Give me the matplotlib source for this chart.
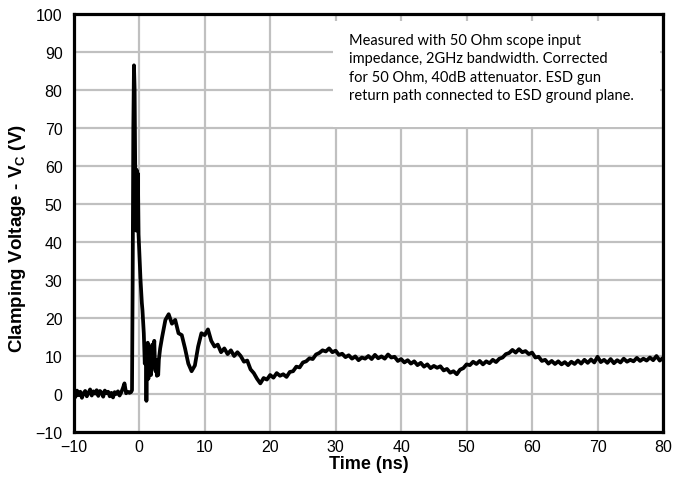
import numpy as np
import matplotlib.pyplot as plt
from matplotlib.patches import Rectangle

plt.rcParams['font.family'] = ['Liberation Sans', 'DejaVu Sans']
plt.rcParams['mathtext.fontset'] = 'custom'
plt.rcParams['mathtext.bf'] = 'Liberation Sans:bold'
plt.rcParams['mathtext.rm'] = 'Liberation Sans:bold'

# baseline before the pulse, -10 .. -1.25 ns every 0.25 ns
t_base = np.arange(-10, -1.24, 0.25)
v_base = [0.5, -0.8, 0.9, -0.3, 0.6, -1.0, 0.2, 0.8, -0.6, 0.3, 1.2, -0.4,
          0.7, 0.1, 1.0, -0.5, 0.8, 0.4, -0.7, 0.9, 0.2, 0.6, -0.6, 0.3,
          -0.9, 0.5, 0.0, 0.7, -0.4, 0.4, 1.5, 2.8, 0.2, 0.6, 0.3, 0.5]

# the ESD spike and ringing
t_peak = [-1.1, -1.0, -0.9, -0.8, -0.7, -0.6, -0.55, -0.5, -0.45, -0.4, -0.35,
          -0.3, -0.25, -0.2, -0.1, 0.0, 0.2, 0.4, 0.5, 0.7, 0.85, 1.0, 1.1,
          1.2, 1.3, 1.4, 1.5, 1.6, 1.7, 1.8, 1.9, 2.0, 2.1, 2.2, 2.3, 2.4,
          2.5, 2.6, 2.7, 2.8, 2.9, 3.0, 3.2]
v_peak = [1.0, 30, 70, 86.5, 80, 55, 45, 58, 43, 59, 44,
          57, 46, 58, 42, 38, 30, 24, 22, 16, 8, 12, -1.8,
          11, 13.5, 4, 10, 7, 12, 5, 9, 13, 7, 11, 14, 8,
          6, 9, 4.8, 7, 5, 9, 12]

# tail, 3.5 .. 80 ns every 0.5 ns
t_tail = np.arange(3.5, 80.01, 0.5)
v_tail = [15, 19.5, 21, 18.5, 19.5, 16, 15.5, 12, 8, 6, 7.5, 12.5, 16, 15.5,
          17, 14, 12.5, 13, 11, 12, 10.5, 11.5, 10, 11, 10, 8.5, 8.8, 6.5,
          5.5, 4, 2.8, 4.2, 3.8, 5, 4.3, 5.5, 4.8, 5.2, 4.5, 5.8, 6.0, 7.2,
          7.0, 8.3, 8.6, 9.4, 9.2, 10.4, 10.8, 11.5, 11.2, 12, 11.0, 11.4,
          10.3, 10.6, 9.7, 10.2, 9.3, 9.9, 8.9, 9.6, 9.3, 10.0, 9.2, 10.3,
          9.4, 9.9, 9.3, 10.4, 9.6, 9.8, 8.7, 9.2, 8.3, 8.9, 8.0, 8.6, 7.6,
          8.2, 7.2, 7.8, 6.8, 7.4, 6.9, 7.3, 6.2, 6.6, 5.6, 6.0, 5.2, 6.4,
          6.8, 7.8, 7.6, 8.5, 7.9, 8.7, 7.8, 8.6, 8.1, 9.0, 8.4, 9.3, 9.6,
          10.5, 10.8, 11.6, 10.9, 11.8, 11.0, 11.3, 10.5, 10.9, 9.6, 9.8,
          8.7, 9.0, 8.0, 8.7, 7.9, 8.6, 7.8, 8.4, 7.6, 8.5, 7.9, 8.8, 8.0,
          9.0, 8.2, 9.1, 8.3, 9.8, 8.4, 9.0, 8.2, 9.2, 8.1, 8.9, 8.3, 9.3,
          8.5, 9.0, 8.6, 9.5, 8.7, 9.3, 8.8, 9.6, 8.9, 10.0, 8.8, 9.5]

time_ns = np.concatenate([t_base, t_peak, t_tail])
vc = np.concatenate([v_base, v_peak, v_tail])

note = ("Measured with 50 Ohm scope input\n"
        "impedance, 2GHz bandwidth. Corrected\n"
        "for 50 Ohm, 40dB attenuator. ESD gun\n"
        "return path connected to ESD ground plane.")

fig = plt.figure(figsize=(6.74, 4.85), dpi=100)
ax = fig.add_axes([0.1094, 0.1072, 0.8743, 0.8618])

ax.plot(time_ns, vc, color='black', lw=2.7, zorder=3)

ax.set_xlim(-10, 80)
ax.set_ylim(-10, 100)
ax.set_xticks(np.arange(-10, 81, 10))
ax.set_yticks(np.arange(-10, 101, 10))
ax.set_axisbelow(True)
ax.grid(True, color='#c0c0c0', lw=1.6)
ax.tick_params(length=0, labelsize=11.5, colors='black')
ax.tick_params(axis='y', pad=8)
ax.tick_params(axis='x', pad=5)
for s in ax.spines.values():
    s.set_linewidth(2.3)
    s.set_color('black')

ax.set_xlabel('Time (ns)', fontsize=13, fontweight='bold', labelpad=1)
ax.set_ylabel(r'Clamping Voltage - V$_{\mathbf{C}}$ (V)', fontsize=13.5,
              fontweight='bold')
ax.yaxis.set_label_coords(-0.078, 0.465)

ax.add_patch(Rectangle((0.44, 0.73), 0.555, 0.253, transform=ax.transAxes,
                       facecolor='white', edgecolor='none', zorder=1.5))
ax.text(0.467, 0.955, note, transform=ax.transAxes, ha='left', va='top',
        fontsize=10.5, family=['Lato', 'DejaVu Sans'], linespacing=1.4,
        zorder=4)

fig.savefig('out.png', dpi=100)
